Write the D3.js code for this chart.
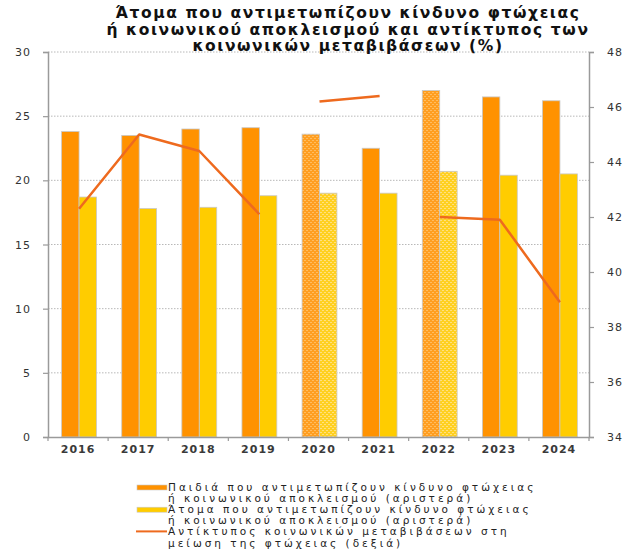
<!DOCTYPE html>
<html>
<head>
<meta charset="utf-8">
<script src="https://cdn.jsdelivr.net/npm/d3@7"></script>
<style>
  html, body { margin: 0; padding: 0; background: #fff; }
  svg { display: block; font-family: "DejaVu Sans", Verdana, sans-serif; }
</style>
</head>
<body>
<svg id="chart" width="632" height="550"></svg>
<script>
// ---- Data ----
const years = ["2016", "2017", "2018", "2019", "2020", "2021", "2022", "2023", "2024"];
const childrenRisk = [23.8, 23.5, 24.0, 24.1, 23.6, 22.5, 27.0, 26.5, 26.2];      // left axis
const peopleRisk = [18.7, 17.8, 17.9, 18.8, 19.0, 19.0, 20.7, 20.4, 20.5];        // left axis
const transfersImpact = [42.3, 45.0, 44.4, 42.1, 46.2, 46.4, 42.0, 41.9, 38.9];   // right axis
const seriesBreakYears = ["2020", "2022"];   // line is not joined across these years
const patternedYears = ["2020", "2022"];     // bars shown with texture
const leftTicks = [0, 5, 10, 15, 20, 25, 30];
const rightTicks = [34, 36, 38, 40, 42, 44, 46, 48];
const titleLines = [
  "Άτομα που αντιμετωπίζουν κίνδυνο φτώχειας",
  "ή κοινωνικού αποκλεισμού και αντίκτυπος των",
  "κοινωνικών μεταβιβάσεων (%)"
];
const legendItems = [
  { type: "bar", key: "children", lines: ["Παιδιά που αντιμετωπίζουν κίνδυνο φτώχειας", "ή κοινωνικού αποκλεισμού (αριστερά)"] },
  { type: "bar", key: "people", lines: ["Άτομα που αντιμετωπίζουν κίνδυνο φτώχειας", "ή κοινωνικού αποκλεισμού (αριστερά)"] },
  { type: "line", key: "impact", lines: ["Αντίκτυπος κοινωνικών μεταβιβάσεων στη", "μείωση της φτώχειας (δεξιά)"] }
];

// ---- Styles ----
const colors = { children: "#FF9200", people: "#FFCC00", impact: "#EE6A1E" };
const M = { left: 48, right: 589, top: 52, bottom: 437 };

const svg = d3.select("#chart");
const defs = svg.append("defs");

function makePattern(id, base, dot) {
  const p = defs.append("pattern").attr("id", id).attr("width", 4).attr("height", 4)
    .attr("patternUnits", "userSpaceOnUse");
  p.append("rect").attr("width", 4).attr("height", 4).attr("fill", base);
  p.append("rect").attr("x", 0).attr("y", 0).attr("width", 2).attr("height", 1).attr("fill", dot);
  p.append("rect").attr("x", 2).attr("y", 2).attr("width", 2).attr("height", 1).attr("fill", dot);
}
makePattern("patChildren", "#FF9E20", "#FFBC60");
makePattern("patPeople", "#FFD020", "#FFE080");

// ---- Scales ----
const x = d3.scaleBand().domain(years).range([M.left, M.right]).padding(0);
const yL = d3.scaleLinear().domain([0, 30]).range([M.bottom, M.top]);
const yR = d3.scaleLinear().domain([34, 48]).range([M.bottom, M.top]);
const barW = x.bandwidth() * 0.29;

// ---- Gridlines ----
svg.append("g").selectAll("line").data(leftTicks.filter(d => d > 0)).join("line")
  .attr("x1", M.left).attr("x2", M.right)
  .attr("y1", d => yL(d)).attr("y2", d => yL(d))
  .attr("stroke", "#b8b8b8").attr("stroke-width", 1).attr("stroke-dasharray", "1.5,1.5");

// ---- Bars ----
const groups = svg.append("g").selectAll("g").data(years).join("g");
groups.append("rect")
  .attr("x", (d) => x(d) + x.bandwidth() / 2 - barW + 1)
  .attr("y", (d, i) => yL(childrenRisk[i]))
  .attr("width", barW)
  .attr("height", (d, i) => yL(0) - yL(childrenRisk[i]))
  .attr("fill", d => patternedYears.includes(d) ? "url(#patChildren)" : colors.children)
  .attr("stroke", "#c8c8c8").attr("stroke-width", 0.8);
groups.append("rect")
  .attr("x", (d) => x(d) + x.bandwidth() / 2 + 1)
  .attr("y", (d, i) => yL(peopleRisk[i]))
  .attr("width", barW)
  .attr("height", (d, i) => yL(0) - yL(peopleRisk[i]))
  .attr("fill", d => patternedYears.includes(d) ? "url(#patPeople)" : colors.people)
  .attr("stroke", "#c8c8c8").attr("stroke-width", 0.8);

// ---- Line (segmented at series breaks) ----
const linePts = years.map((yr, i) => ({ yr, v: transfersImpact[i] }));
const segments = [];
linePts.forEach(p => {
  if (segments.length === 0 || seriesBreakYears.includes(p.yr)) segments.push([]);
  segments[segments.length - 1].push(p);
});
const lineGen = d3.line().x(p => x(p.yr) + x.bandwidth() / 2 + 1).y(p => yR(p.v));
svg.append("g").selectAll("path").data(segments).join("path")
  .attr("d", lineGen).attr("fill", "none")
  .attr("stroke", colors.impact).attr("stroke-width", 2.5).attr("stroke-linejoin", "round");

// ---- Axes ----
const axisColor = "#9a9a9a";
const textColor = "#333";
const gL = svg.append("g").attr("transform", `translate(${M.left},0)`)
  .call(d3.axisLeft(yL).tickValues(leftTicks).tickSize(5).tickPadding(12));
const gR = svg.append("g").attr("transform", `translate(${M.right},0)`)
  .call(d3.axisRight(yR).tickValues(rightTicks).tickSize(5).tickPadding(13));
const gX = svg.append("g").attr("transform", `translate(0,${M.bottom})`)
  .call(d3.axisBottom(x).tickSize(0).tickPadding(8));
// category separator ticks
svg.append("g").selectAll("line").data(d3.range(years.length + 1)).join("line")
  .attr("x1", i => M.left + i * x.bandwidth()).attr("x2", i => M.left + i * x.bandwidth())
  .attr("y1", M.bottom).attr("y2", M.bottom + 4)
  .attr("stroke", axisColor).attr("stroke-width", 1.2);

[gL, gR, gX].forEach(g => {
  g.select(".domain").attr("stroke", axisColor).attr("stroke-width", 1.5);
  g.selectAll(".tick line").attr("stroke", axisColor).attr("stroke-width", 1.2);
  g.selectAll("text").attr("fill", textColor).attr("font-size", 11)
    .attr("font-family", "'DejaVu Sans', Verdana, sans-serif").attr("letter-spacing", 1);
});
gX.selectAll("text").attr("font-weight", "bold").attr("fill", "#3a3a3a");

// ---- Title ----
svg.append("g").selectAll("text").data(titleLines).join("text")
  .attr("x", 348).attr("y", (d, i) => 18 + i * 16.5)
  .attr("text-anchor", "middle")
  .attr("font-size", 15.5).attr("letter-spacing", 1.6).attr("font-weight", "bold").attr("fill", "#111")
  .text(d => d);

// ---- Legend ----
const lg = svg.append("g");
const lx = 168, ly0 = 491, lstep = 11.1;
legendItems.forEach((item, k) => {
  const yBase = ly0 + k * 2 * lstep;
  if (item.type === "bar") {
    lg.append("rect").attr("x", 137).attr("y", yBase - 6).attr("width", 30).attr("height", 5)
      .attr("fill", colors[item.key]).attr("stroke", "#c8c8c8").attr("stroke-width", 0.6);
  } else {
    lg.append("line").attr("x1", 136).attr("x2", 167).attr("y1", yBase - 4).attr("y2", yBase - 4)
      .attr("stroke", colors.impact).attr("stroke-width", 2);
  }
  item.lines.forEach((t, j) => {
    lg.append("text").attr("x", lx).attr("y", yBase + j * lstep)
      .attr("font-size", 10.5).attr("letter-spacing", 3).attr("fill", "#222").text(t);
  });
});
</script>
</body>
</html>
